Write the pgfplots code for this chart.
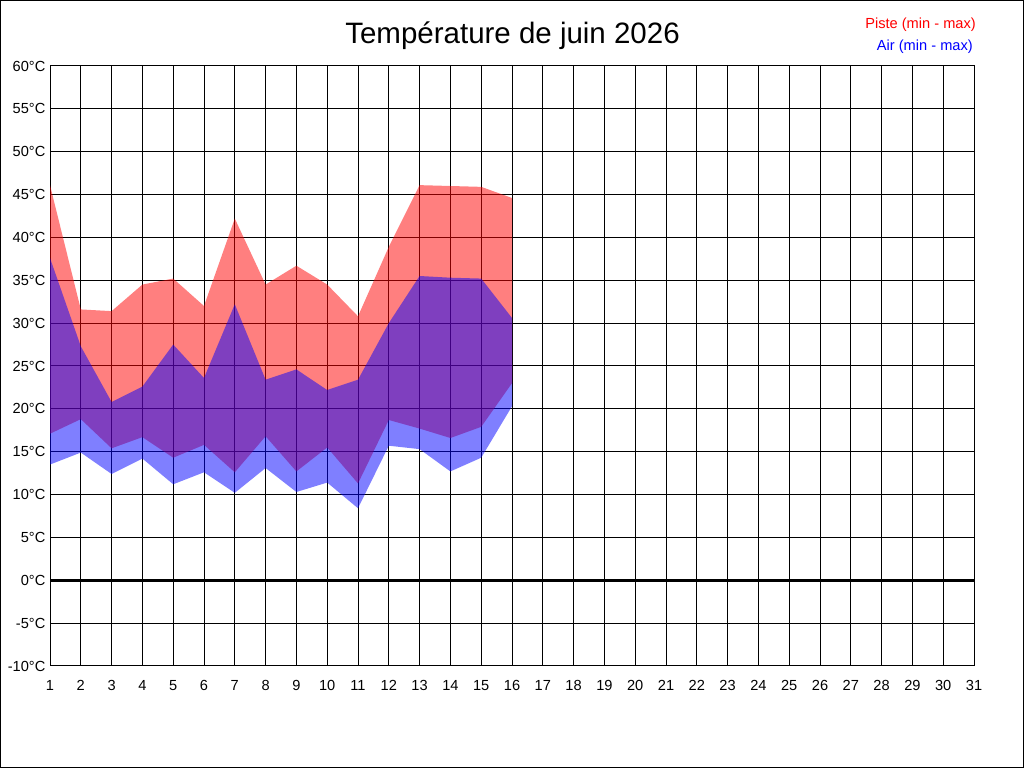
\documentclass[border=0pt]{standalone}
\usepackage{fontspec}
\setmainfont{Liberation Sans}
\usepackage{pgfplots}
\pgfplotsset{compat=1.18}

\begin{document}
\begin{tikzpicture}
\fill[white] (0,0) rectangle (768bp,576bp);
\begin{axis}[
  at={(37.5bp,76.5bp)}, anchor=south west,
  scale only axis, width=693bp, height=450bp,
  xmin=1, xmax=31, ymin=-10, ymax=60,
  xtick={1,...,31}, ytick={-10,-5,...,60},
  yticklabels={-10°C,-5°C,0°C,5°C,10°C,15°C,20°C,25°C,30°C,35°C,40°C,45°C,50°C,55°C,60°C},
  grid=major, major grid style={black, line width=0.75bp},
  axis line style={black, line width=0.75bp},
  major tick length=0pt,
  tick label style={font=\fontsize{11}{12}\selectfont},
  xticklabel style={yshift=-7bp},
  /pgf/number format/assume math mode=true,
]
% Piste (min - max): max forward, min backward
\addplot[fill=red, fill opacity=0.5, draw=none] coordinates {
 (1,46.1) (2,31.6) (3,31.4) (4,34.5) (5,35.2) (6,32.0) (7,42.2) (8,34.5)
 (9,36.7) (10,34.5) (11,30.8) (12,38.9) (13,46.1) (14,46.0) (15,45.9) (16,44.6)
 (16,23.0) (15,17.9) (14,16.6) (13,17.7) (12,18.7) (11,11.3) (10,15.5) (9,12.7)
 (8,16.8) (7,12.6) (6,15.8) (5,14.3) (4,16.7) (3,15.4) (2,18.8) (1,17.1)
} -- cycle;
% Air (min - max)
\addplot[fill=blue, fill opacity=0.5, draw=none] coordinates {
 (1,37.6) (2,27.3) (3,20.8) (4,22.6) (5,27.5) (6,23.6) (7,32.2) (8,23.4)
 (9,24.6) (10,22.2) (11,23.4) (12,30.0) (13,35.5) (14,35.3) (15,35.2) (16,30.6)
 (16,20.3) (15,14.3) (14,12.7) (13,15.3) (12,15.7) (11,8.4) (10,11.4) (9,10.3)
 (8,13.1) (7,10.2) (6,12.6) (5,11.2) (4,14.2) (3,12.4) (2,14.9) (1,13.5)
} -- cycle;
\addplot[black, line width=2.25bp] coordinates {(1,0) (31,0)};
\end{axis}
\node[anchor=base, inner sep=0pt, font=\fontsize{22.2}{25}\selectfont] at (384.4bp,543.4bp) {Température de juin 2026};
\node[anchor=base east, inner sep=0pt, text=red, font=\fontsize{11}{13}\selectfont] at (732bp,554.8bp) {Piste (min - max)};
\node[anchor=base east, inner sep=0pt, text=blue, font=\fontsize{11}{13}\selectfont] at (729.75bp,538bp) {Air (min - max)};
\draw[black, line width=0.75bp] (0.375bp,0.375bp) rectangle (767.625bp,575.625bp);
\end{tikzpicture}
\end{document}
